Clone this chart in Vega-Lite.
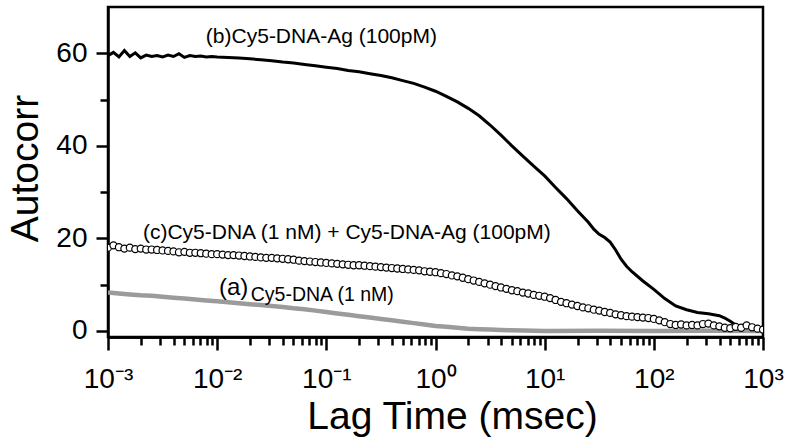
{
  "$schema": "https://vega.github.io/schema/vega-lite/v6.json",
  "width": 655,
  "height": 330,
  "autosize": {"type": "none"},
  "padding": {"left": 108, "top": 7, "right": 31, "bottom": 105},
  "background": "white",
  "resolve": {"axis": {"x": "independent"}},
  "config": {
    "font": "Liberation Sans",
    "view": {"stroke": "black", "strokeWidth": 2.5},
    "axis": {
      "grid": false,
      "domainColor": "black",
      "domainWidth": 2.5,
      "tickColor": "black",
      "tickWidth": 2.5,
      "labelColor": "black",
      "labelFont": "Liberation Sans",
      "labelFontSize": 28,
      "titleFont": "Liberation Sans",
      "titleFontSize": 39,
      "titleFontWeight": "normal",
      "titleColor": "black",
      "labelOverlap": false,
      "labelBound": false,
      "labelFlush": false
    }
  },
  "datasets": {
    "curves": [
      {"s": "b", "t": 0.001, "v": 59.5}, {"s": "b", "t": 0.001122, "v": 60.2}, {"s": "b", "t": 0.001259, "v": 59.2}, {"s": "b", "t": 0.001413, "v": 60.6},
      {"s": "b", "t": 0.001585, "v": 59.3}, {"s": "b", "t": 0.001778, "v": 60.1}, {"s": "b", "t": 0.001995, "v": 59.0}, {"s": "b", "t": 0.002239, "v": 59.6},
      {"s": "b", "t": 0.002512, "v": 59.3}, {"s": "b", "t": 0.002818, "v": 59.5}, {"s": "b", "t": 0.003162, "v": 59.2}, {"s": "b", "t": 0.003548, "v": 59.6},
      {"s": "b", "t": 0.003981, "v": 59.3}, {"s": "b", "t": 0.004467, "v": 59.9}, {"s": "b", "t": 0.005012, "v": 59.1}, {"s": "b", "t": 0.005623, "v": 59.5},
      {"s": "b", "t": 0.00631, "v": 59.3}, {"s": "b", "t": 0.007079, "v": 59.4}, {"s": "b", "t": 0.007943, "v": 59.2}, {"s": "b", "t": 0.008913, "v": 59.3},
      {"s": "b", "t": 0.01, "v": 59.2}, {"s": "b", "t": 0.01259, "v": 59.1}, {"s": "b", "t": 0.01585, "v": 59.0}, {"s": "b", "t": 0.01995, "v": 58.8},
      {"s": "b", "t": 0.02512, "v": 58.6}, {"s": "b", "t": 0.03162, "v": 58.4}, {"s": "b", "t": 0.03981, "v": 58.1}, {"s": "b", "t": 0.05012, "v": 57.9},
      {"s": "b", "t": 0.0631, "v": 57.6}, {"s": "b", "t": 0.07943, "v": 57.3}, {"s": "b", "t": 0.1, "v": 57.0}, {"s": "b", "t": 0.1259, "v": 56.7},
      {"s": "b", "t": 0.1585, "v": 56.3}, {"s": "b", "t": 0.1995, "v": 56.0}, {"s": "b", "t": 0.2512, "v": 55.6}, {"s": "b", "t": 0.3162, "v": 55.2},
      {"s": "b", "t": 0.3981, "v": 54.7}, {"s": "b", "t": 0.5012, "v": 54.1}, {"s": "b", "t": 0.631, "v": 53.5}, {"s": "b", "t": 0.7943, "v": 52.7},
      {"s": "b", "t": 1, "v": 51.8}, {"s": "b", "t": 1.259, "v": 50.7}, {"s": "b", "t": 1.585, "v": 49.5}, {"s": "b", "t": 1.995, "v": 48.1},
      {"s": "b", "t": 2.512, "v": 46.5}, {"s": "b", "t": 3.162, "v": 44.5}, {"s": "b", "t": 3.981, "v": 42.3}, {"s": "b", "t": 5.012, "v": 40.0},
      {"s": "b", "t": 6.31, "v": 37.8}, {"s": "b", "t": 7.943, "v": 35.6}, {"s": "b", "t": 10, "v": 33.5}, {"s": "b", "t": 12.59, "v": 31.0},
      {"s": "b", "t": 15.85, "v": 28.6}, {"s": "b", "t": 19.95, "v": 26.0}, {"s": "b", "t": 25.12, "v": 23.5}, {"s": "b", "t": 28.18, "v": 22.0},
      {"s": "b", "t": 31.62, "v": 20.9}, {"s": "b", "t": 35.48, "v": 20.2}, {"s": "b", "t": 39.81, "v": 19.2}, {"s": "b", "t": 44.67, "v": 17.5},
      {"s": "b", "t": 50.12, "v": 15.5}, {"s": "b", "t": 56.23, "v": 14.0}, {"s": "b", "t": 63.1, "v": 12.8}, {"s": "b", "t": 79.43, "v": 10.8},
      {"s": "b", "t": 100, "v": 9.0}, {"s": "b", "t": 125.9, "v": 7.0}, {"s": "b", "t": 158.5, "v": 5.4}, {"s": "b", "t": 199.5, "v": 4.6},
      {"s": "b", "t": 251.2, "v": 4.0}, {"s": "b", "t": 316.2, "v": 3.7}, {"s": "b", "t": 398.1, "v": 3.3}, {"s": "b", "t": 446.7, "v": 2.8},
      {"s": "b", "t": 501.2, "v": 2.1}, {"s": "b", "t": 562.3, "v": 1.3}, {"s": "b", "t": 631, "v": 0.9}, {"s": "b", "t": 707.9, "v": 1.2},
      {"s": "b", "t": 794.3, "v": 0.8}, {"s": "b", "t": 891.3, "v": 0.6}, {"s": "b", "t": 1000, "v": 0.3},

      {"s": "a", "t": 0.001, "v": 8.3}, {"s": "a", "t": 0.001259, "v": 8.1}, {"s": "a", "t": 0.001585, "v": 7.9}, {"s": "a", "t": 0.001995, "v": 7.7},
      {"s": "a", "t": 0.002512, "v": 7.6}, {"s": "a", "t": 0.003162, "v": 7.4}, {"s": "a", "t": 0.003981, "v": 7.2}, {"s": "a", "t": 0.005012, "v": 7.0},
      {"s": "a", "t": 0.00631, "v": 6.8}, {"s": "a", "t": 0.007943, "v": 6.6}, {"s": "a", "t": 0.01, "v": 6.4}, {"s": "a", "t": 0.01259, "v": 6.2},
      {"s": "a", "t": 0.01585, "v": 6.0}, {"s": "a", "t": 0.01995, "v": 5.8}, {"s": "a", "t": 0.02512, "v": 5.6}, {"s": "a", "t": 0.03162, "v": 5.4},
      {"s": "a", "t": 0.03981, "v": 5.2}, {"s": "a", "t": 0.05012, "v": 4.9}, {"s": "a", "t": 0.0631, "v": 4.7}, {"s": "a", "t": 0.07943, "v": 4.4},
      {"s": "a", "t": 0.1, "v": 4.1}, {"s": "a", "t": 0.1259, "v": 3.8}, {"s": "a", "t": 0.1585, "v": 3.5}, {"s": "a", "t": 0.1995, "v": 3.2},
      {"s": "a", "t": 0.2512, "v": 2.9}, {"s": "a", "t": 0.3162, "v": 2.6}, {"s": "a", "t": 0.3981, "v": 2.3}, {"s": "a", "t": 0.5012, "v": 2.0},
      {"s": "a", "t": 0.631, "v": 1.7}, {"s": "a", "t": 0.7943, "v": 1.4}, {"s": "a", "t": 1, "v": 1.1}, {"s": "a", "t": 1.259, "v": 0.9},
      {"s": "a", "t": 1.585, "v": 0.7}, {"s": "a", "t": 1.995, "v": 0.5}, {"s": "a", "t": 2.512, "v": 0.4}, {"s": "a", "t": 3.162, "v": 0.3},
      {"s": "a", "t": 3.981, "v": 0.2}, {"s": "a", "t": 5.012, "v": 0.15}, {"s": "a", "t": 6.31, "v": 0.1}, {"s": "a", "t": 7.943, "v": 0.05},
      {"s": "a", "t": 10, "v": 0.0}, {"s": "a", "t": 31.62, "v": 0.05}, {"s": "a", "t": 100, "v": 0.0}, {"s": "a", "t": 316.2, "v": 0.05},
      {"s": "a", "t": 1000, "v": 0.0},

      {"s": "c", "t": 0.001, "v": 18.0}, {"s": "c", "t": 0.001122, "v": 18.5}, {"s": "c", "t": 0.001259, "v": 18.1}, {"s": "c", "t": 0.001413, "v": 17.8},
      {"s": "c", "t": 0.001585, "v": 18.0}, {"s": "c", "t": 0.001778, "v": 17.7}, {"s": "c", "t": 0.001995, "v": 17.8}, {"s": "c", "t": 0.002239, "v": 17.6},
      {"s": "c", "t": 0.002512, "v": 17.6}, {"s": "c", "t": 0.002818, "v": 17.5}, {"s": "c", "t": 0.003162, "v": 17.4}, {"s": "c", "t": 0.003548, "v": 17.3},
      {"s": "c", "t": 0.003981, "v": 17.2}, {"s": "c", "t": 0.004467, "v": 17.0}, {"s": "c", "t": 0.005012, "v": 17.1}, {"s": "c", "t": 0.005623, "v": 16.9},
      {"s": "c", "t": 0.00631, "v": 16.9}, {"s": "c", "t": 0.007079, "v": 16.8}, {"s": "c", "t": 0.007943, "v": 16.7}, {"s": "c", "t": 0.008913, "v": 16.6},
      {"s": "c", "t": 0.01, "v": 16.6}, {"s": "c", "t": 0.01122, "v": 16.5}, {"s": "c", "t": 0.01259, "v": 16.4}, {"s": "c", "t": 0.01413, "v": 16.4},
      {"s": "c", "t": 0.01585, "v": 16.3}, {"s": "c", "t": 0.01778, "v": 16.2}, {"s": "c", "t": 0.01995, "v": 16.1}, {"s": "c", "t": 0.02239, "v": 16.0},
      {"s": "c", "t": 0.02512, "v": 15.9}, {"s": "c", "t": 0.02818, "v": 15.8}, {"s": "c", "t": 0.03162, "v": 15.8}, {"s": "c", "t": 0.03548, "v": 15.7},
      {"s": "c", "t": 0.03981, "v": 15.6}, {"s": "c", "t": 0.04467, "v": 15.5}, {"s": "c", "t": 0.05012, "v": 15.4}, {"s": "c", "t": 0.05623, "v": 15.2},
      {"s": "c", "t": 0.0631, "v": 15.1}, {"s": "c", "t": 0.07079, "v": 15.0}, {"s": "c", "t": 0.07943, "v": 14.9}, {"s": "c", "t": 0.08913, "v": 14.8},
      {"s": "c", "t": 0.1, "v": 14.7}, {"s": "c", "t": 0.1122, "v": 14.6}, {"s": "c", "t": 0.1259, "v": 14.5}, {"s": "c", "t": 0.1413, "v": 14.4},
      {"s": "c", "t": 0.1585, "v": 14.3}, {"s": "c", "t": 0.1778, "v": 14.2}, {"s": "c", "t": 0.1995, "v": 14.2}, {"s": "c", "t": 0.2239, "v": 14.1},
      {"s": "c", "t": 0.2512, "v": 14.0}, {"s": "c", "t": 0.2818, "v": 13.9}, {"s": "c", "t": 0.3162, "v": 13.8}, {"s": "c", "t": 0.3548, "v": 13.7},
      {"s": "c", "t": 0.3981, "v": 13.6}, {"s": "c", "t": 0.4467, "v": 13.5}, {"s": "c", "t": 0.5012, "v": 13.4}, {"s": "c", "t": 0.5623, "v": 13.3},
      {"s": "c", "t": 0.631, "v": 13.2}, {"s": "c", "t": 0.7079, "v": 13.1}, {"s": "c", "t": 0.7943, "v": 12.9}, {"s": "c", "t": 0.8913, "v": 12.8},
      {"s": "c", "t": 1, "v": 12.7}, {"s": "c", "t": 1.122, "v": 12.5}, {"s": "c", "t": 1.259, "v": 12.3}, {"s": "c", "t": 1.413, "v": 12.0},
      {"s": "c", "t": 1.585, "v": 11.8}, {"s": "c", "t": 1.778, "v": 11.5}, {"s": "c", "t": 1.995, "v": 11.2}, {"s": "c", "t": 2.239, "v": 10.9},
      {"s": "c", "t": 2.512, "v": 10.6}, {"s": "c", "t": 2.818, "v": 10.3}, {"s": "c", "t": 3.162, "v": 10.0}, {"s": "c", "t": 3.548, "v": 9.7},
      {"s": "c", "t": 3.981, "v": 9.4}, {"s": "c", "t": 4.467, "v": 9.1}, {"s": "c", "t": 5.012, "v": 8.8}, {"s": "c", "t": 5.623, "v": 8.6},
      {"s": "c", "t": 6.31, "v": 8.3}, {"s": "c", "t": 7.079, "v": 8.1}, {"s": "c", "t": 7.943, "v": 7.8}, {"s": "c", "t": 8.913, "v": 7.6},
      {"s": "c", "t": 10, "v": 7.4}, {"s": "c", "t": 11.22, "v": 7.1}, {"s": "c", "t": 12.59, "v": 6.7}, {"s": "c", "t": 14.13, "v": 6.3},
      {"s": "c", "t": 15.85, "v": 6.0}, {"s": "c", "t": 17.78, "v": 5.7}, {"s": "c", "t": 19.95, "v": 5.4}, {"s": "c", "t": 22.39, "v": 5.1},
      {"s": "c", "t": 25.12, "v": 4.9}, {"s": "c", "t": 28.18, "v": 4.6}, {"s": "c", "t": 31.62, "v": 4.4}, {"s": "c", "t": 35.48, "v": 4.1},
      {"s": "c", "t": 39.81, "v": 3.9}, {"s": "c", "t": 44.67, "v": 3.6}, {"s": "c", "t": 50.12, "v": 3.4}, {"s": "c", "t": 56.23, "v": 3.2},
      {"s": "c", "t": 63.1, "v": 3.1}, {"s": "c", "t": 70.79, "v": 3.0}, {"s": "c", "t": 79.43, "v": 2.9}, {"s": "c", "t": 89.13, "v": 2.8},
      {"s": "c", "t": 100, "v": 2.6}, {"s": "c", "t": 112.2, "v": 2.3}, {"s": "c", "t": 125.9, "v": 1.9}, {"s": "c", "t": 141.3, "v": 1.5},
      {"s": "c", "t": 158.5, "v": 1.3}, {"s": "c", "t": 177.8, "v": 1.4}, {"s": "c", "t": 199.5, "v": 1.2}, {"s": "c", "t": 223.9, "v": 1.3},
      {"s": "c", "t": 251.2, "v": 1.2}, {"s": "c", "t": 281.8, "v": 1.5}, {"s": "c", "t": 316.2, "v": 1.6}, {"s": "c", "t": 354.8, "v": 1.2},
      {"s": "c", "t": 398.1, "v": 1.0}, {"s": "c", "t": 446.7, "v": 0.7}, {"s": "c", "t": 501.2, "v": 0.6}, {"s": "c", "t": 562.3, "v": 0.9},
      {"s": "c", "t": 631, "v": 0.7}, {"s": "c", "t": 707.9, "v": 1.2}, {"s": "c", "t": 794.3, "v": 0.8}, {"s": "c", "t": 891.3, "v": 0.5},
      {"s": "c", "t": 1000, "v": 0.3}
    ]
  },
  "layer": [
    {
      "data": {"name": "curves"},
      "transform": [{"filter": "datum.s === 'a'"}],
      "mark": {"type": "line", "color": "#9b9b9b", "strokeWidth": 4.5, "clip": true},
      "encoding": {
        "x": {
          "field": "t", "type": "quantitative",
          "scale": {"type": "log", "domain": [0.001, 1000], "nice": false},
          "axis": {
            "orient": "bottom",
            "title": null,
            "values": [0.002,0.003,0.004,0.005,0.006,0.007,0.008,0.009,
                       0.02,0.03,0.04,0.05,0.06,0.07,0.08,0.09,
                       0.2,0.3,0.4,0.5,0.6,0.7,0.8,0.9,
                       2,3,4,5,6,7,8,9,
                       20,30,40,50,60,70,80,90,
                       200,300,400,500,600,700,800,900],
            "labels": false,
            "tickSize": 8
          }
        },
        "y": {
          "field": "v", "type": "quantitative",
          "scale": {"domain": [-1.3, 70], "nice": false, "zero": false},
          "axis": {
            "title": "Autocorr",
            "values": [0, 10, 20, 30, 40, 50, 60],
            "labelExpr": "datum.value % 20 === 0 ? datum.label : ''",
            "tickSize": {"condition": {"test": "datum.value % 20 === 0", "value": 12}, "value": 8},
            "labelPadding": 9,
            "titleX": -71,
            "titleY": 161,
            "titleAngle": -90,
            "titleAlign": "center",
            "titleBaseline": "alphabetic"
          }
        }
      }
    },
    {
      "data": {"name": "curves"},
      "transform": [{"filter": "datum.s === 'b'"}],
      "mark": {"type": "line", "color": "black", "strokeWidth": 3, "clip": true},
      "encoding": {
        "x": {
          "field": "t", "type": "quantitative",
          "axis": {
            "orient": "bottom",
            "title": "Lag Time (msec)",
            "values": [0.001, 0.01, 0.1, 1, 10, 100, 1000],
            "labelExpr": "'10' + (round(log(datum.value)/LN10) < 0 ? '⁻' : '') + ['⁰','¹','²','³'][abs(round(log(datum.value)/LN10))]",
            "tickSize": 13,
            "labelBaseline": "alphabetic",
            "labelPadding": 37,
            "titleX": 344,
            "titleY": 91,
            "titleAlign": "center",
            "titleBaseline": "alphabetic"
          }
        },
        "y": {"field": "v", "type": "quantitative"}
      }
    },
    {
      "data": {"name": "curves"},
      "transform": [{"filter": "datum.s === 'c'"}],
      "mark": {"type": "point", "shape": "circle", "filled": false, "fill": "white", "fillOpacity": 1, "stroke": "black", "strokeWidth": 1.2, "size": 50, "opacity": 1, "clip": true},
      "encoding": {
        "x": {"field": "t", "type": "quantitative", "axis": null},
        "y": {"field": "v", "type": "quantitative"}
      }
    },
    {
      "data": {"values": [
        {"t": 0.00788, "v": 63.5, "label": "(b)Cy5-DNA-Ag (100pM)"},
        {"t": 0.00209, "v": 21.2, "label": "(c)Cy5-DNA (1 nM) + Cy5-DNA-Ag (100pM)"}
      ]},
      "mark": {"type": "text", "align": "left", "baseline": "middle", "fontSize": 21, "font": "Liberation Sans", "color": "black"},
      "encoding": {
        "x": {"field": "t", "type": "quantitative", "axis": null},
        "y": {"field": "v", "type": "quantitative"},
        "text": {"field": "label"}
      }
    },
    {
      "data": {"values": [{"t": 0.0104, "v": 9.2, "label": "(a)"}]},
      "mark": {"type": "text", "align": "left", "baseline": "middle", "fontSize": 24, "font": "Liberation Sans", "color": "black"},
      "encoding": {
        "x": {"field": "t", "type": "quantitative", "axis": null},
        "y": {"field": "v", "type": "quantitative"},
        "text": {"field": "label"}
      }
    },
    {
      "data": {"values": [{"t": 0.0203, "v": 7.8, "label": "Cy5-DNA (1 nM)"}]},
      "mark": {"type": "text", "align": "left", "baseline": "middle", "fontSize": 19.5, "font": "Liberation Sans", "color": "black"},
      "encoding": {
        "x": {"field": "t", "type": "quantitative", "axis": null},
        "y": {"field": "v", "type": "quantitative"},
        "text": {"field": "label"}
      }
    }
  ]
}
